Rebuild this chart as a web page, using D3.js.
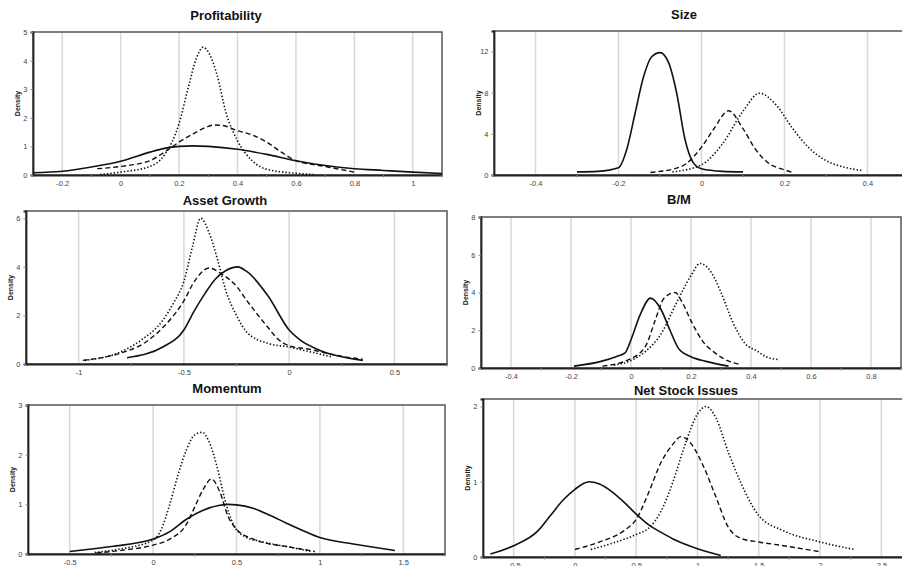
<!DOCTYPE html>
<html>
<head>
<meta charset="utf-8">
<script src="https://cdn.jsdelivr.net/npm/d3@7"></script>
<style>
  body { margin: 0; background: #fff; }
  svg { display: block; font-family: Arial, "Liberation Sans", sans-serif; }
</style>
</head>
<body>
<div id="chart"></div>
<script>
const width = 902;
const height = 566;

// ---- data: [x, density] ----
const profitSolid = [[-0.3,0.08],[-0.2,0.13],[-0.1,0.28],[0,0.48],[0.1,0.8],[0.15,0.93],[0.2,1.0],[0.25,1.02],[0.3,1.0],[0.4,0.9],[0.5,0.72],[0.6,0.5],[0.7,0.33],[0.8,0.22],[0.9,0.16],[1.0,0.1],[1.1,0.05]];
const profitDashed = [[-0.08,0.22],[0,0.3],[0.1,0.5],[0.15,0.8],[0.2,1.15],[0.25,1.45],[0.3,1.7],[0.32,1.75],[0.35,1.73],[0.4,1.55],[0.45,1.4],[0.5,1.15],[0.55,0.8],[0.6,0.5],[0.7,0.3],[0.8,0.1]];
const profitDotted = [[-0.07,0.02],[0,0.1],[0.1,0.3],[0.15,0.7],[0.2,1.8],[0.23,3.0],[0.26,4.1],[0.283,4.47],[0.3,4.3],[0.33,3.5],[0.36,2.2],[0.4,1.2],[0.45,0.5],[0.5,0.2],[0.6,0.06],[0.66,0.02]];

const sizeSolid = [[-0.3,0.3],[-0.25,0.35],[-0.2,0.7],[-0.18,2.5],[-0.16,6],[-0.14,9.5],[-0.12,11.5],[-0.1,11.9],[-0.08,11.0],[-0.06,8],[-0.04,3.5],[-0.02,1.2],[0,0.6],[0.05,0.35],[0.1,0.3]];
const sizeDashed = [[-0.123,0.25],[-0.05,0.8],[0,2.7],[0.03,4.5],[0.065,6.25],[0.1,4.5],[0.13,2.5],[0.16,1.2],[0.2,0.5],[0.22,0.25]];
const sizeDotted = [[-0.07,0.3],[0,1.0],[0.05,3.0],[0.1,6.2],[0.14,7.95],[0.18,6.8],[0.22,4.5],[0.26,2.6],[0.3,1.4],[0.35,0.7],[0.385,0.45]];

const growthSolid = [[-0.77,0.26],[-0.6,0.7],[-0.5,1.4],[-0.45,2.2],[-0.4,2.9],[-0.35,3.5],[-0.3,3.85],[-0.245,4.0],[-0.2,3.8],[-0.1,2.8],[0,1.4],[0.05,1.0],[0.15,0.55],[0.25,0.3],[0.35,0.15]];
const growthDashed = [[-0.98,0.15],[-0.8,0.45],[-0.7,0.8],[-0.6,1.5],[-0.5,2.6],[-0.45,3.4],[-0.38,3.95],[-0.32,3.7],[-0.25,3.2],[-0.2,2.6],[-0.1,1.5],[-0.05,1.0],[0,0.75],[0.1,0.6],[0.2,0.4],[0.3,0.25],[0.35,0.2]];
const growthDotted = [[-0.97,0.15],[-0.8,0.5],[-0.7,1.0],[-0.6,1.8],[-0.55,2.5],[-0.5,3.4],[-0.46,4.8],[-0.42,6.0],[-0.38,5.4],[-0.34,4.3],[-0.3,3.0],[-0.25,2.0],[-0.2,1.3],[-0.1,0.85],[0,0.7],[0.1,0.5],[0.2,0.3]];

const bmSolid = [[-0.19,0.1],[-0.1,0.35],[-0.05,0.6],[-0.02,0.8],[0,1.5],[0.03,2.8],[0.065,3.7],[0.1,3.1],[0.13,2.0],[0.16,1.0],[0.2,0.6],[0.25,0.35],[0.325,0.1]];
const bmDashed = [[-0.095,0.1],[0,0.5],[0.05,1.2],[0.08,2.5],[0.11,3.7],[0.147,4.0],[0.17,3.5],[0.2,2.5],[0.24,1.4],[0.28,0.8],[0.32,0.4],[0.36,0.2]];
const bmDotted = [[-0.057,0.15],[0,0.4],[0.05,0.9],[0.1,1.8],[0.15,3.4],[0.2,4.9],[0.23,5.54],[0.27,5.0],[0.3,4.0],[0.34,2.4],[0.38,1.3],[0.42,0.9],[0.45,0.6],[0.49,0.45]];

const momSolid = [[-0.5,0.05],[-0.25,0.15],[0,0.3],[0.1,0.45],[0.2,0.7],[0.3,0.88],[0.4,0.98],[0.45,1.0],[0.5,0.99],[0.6,0.92],[0.7,0.78],[0.8,0.62],[0.9,0.47],[1.0,0.33],[1.2,0.2],[1.45,0.07]];
const momDashed = [[-0.34,0.02],[-0.2,0.07],[0,0.18],[0.1,0.3],[0.2,0.6],[0.25,0.95],[0.3,1.3],[0.35,1.51],[0.4,1.25],[0.45,0.75],[0.5,0.5],[0.6,0.3],[0.7,0.2],[0.8,0.15],[0.97,0.05]];
const momDotted = [[-0.35,0.03],[-0.2,0.1],[0,0.28],[0.05,0.5],[0.1,1.0],[0.15,1.6],[0.2,2.1],[0.25,2.4],[0.295,2.45],[0.33,2.3],[0.38,1.8],[0.43,1.1],[0.48,0.6],[0.55,0.35],[0.65,0.25],[0.8,0.15],[0.95,0.05]];

const nsiSolid = [[-0.69,0.04],[-0.5,0.15],[-0.3,0.35],[-0.2,0.55],[-0.1,0.75],[0,0.9],[0.115,1.0],[0.2,0.97],[0.3,0.87],[0.4,0.73],[0.5,0.57],[0.6,0.43],[0.7,0.33],[0.8,0.24],[0.9,0.17],[1.0,0.11],[1.1,0.06],[1.19,0.02]];
const nsiDashed = [[0,0.1],[0.2,0.2],[0.4,0.35],[0.5,0.5],[0.6,0.85],[0.7,1.25],[0.8,1.5],[0.865,1.6],[0.95,1.5],[1.05,1.2],[1.15,0.8],[1.25,0.4],[1.35,0.25],[1.5,0.2],[1.7,0.15],[2.0,0.07]];
const nsiDotted = [[0.13,0.1],[0.3,0.18],[0.5,0.3],[0.6,0.38],[0.7,0.6],[0.8,1.0],[0.9,1.5],[1.0,1.9],[1.07,2.0],[1.15,1.85],[1.25,1.4],[1.35,1.0],[1.5,0.55],[1.7,0.35],[2.0,0.2],[2.28,0.1]];

// tick labels
const profitXTicks = [-0.2, 0, 0.2, 0.4, 0.6, 0.8, 1];
const profitYTicks = [0, 1, 2, 3, 4, 5];
const sizeXTicks = [-0.4, -0.2, 0, 0.2, 0.4];
const sizeYTicks = [0, 4, 8, 12];
const growthXTicks = [-1, -0.5, 0, 0.5];
const growthYTicks = [0, 2, 4, 6];
const bmXTicks = [-0.4, -0.2, 0, 0.2, 0.4, 0.6, 0.8];
const bmYTicks = [0, 2, 4, 6, 8];
const momXTicks = [-0.5, 0, 0.5, 1, 1.5];
const momYTicks = [0, 1, 2, 3];
const nsiXTicks = [-0.5, 0, 0.5, 1, 1.5, 2, 2.5];
const nsiYTicks = [0, 1, 2];

const panels = [
  {title: 'Profitability', tx: 226, ty: 20, box: [33, 32, 442, 175], xd: [-0.3, 1.1], yd: [0, 5],
   xt: profitXTicks, yt: profitYTicks, minor: 0.1, lines: [profitSolid, profitDashed, profitDotted]},
  {title: 'Size', tx: 684, ty: 19, box: [494, 31, 909, 175], xd: [-0.5, 0.5], yd: [0, 14],
   xt: sizeXTicks, yt: sizeYTicks, minor: 0.1, lines: [sizeSolid, sizeDashed, sizeDotted]},
  {title: 'Asset Growth', tx: 225, ty: 205, box: [26, 211, 447, 364], xd: [-1.25, 0.75], yd: [0, 6.3],
   xt: growthXTicks, yt: growthYTicks, minor: 0.25, lines: [growthSolid, growthDashed, growthDotted]},
  {title: 'B/M', tx: 679, ty: 204, box: [481, 217, 901, 368], xd: [-0.5, 0.9], yd: [0, 8],
   xt: bmXTicks, yt: bmYTicks, minor: 0.1, lines: [bmSolid, bmDashed, bmDotted]},
  {title: 'Momentum', tx: 227, ty: 393, box: [28, 405, 445, 554], xd: [-0.75, 1.75], yd: [0, 3],
   xt: momXTicks, yt: momYTicks, minor: 0.25, lines: [momSolid, momDashed, momDotted]},
  {title: 'Net Stock Issues', tx: 686, ty: 395, box: [483, 399, 912, 557], xd: [-0.75, 2.75], yd: [0, 2.1],
   xt: nsiXTicks, yt: nsiYTicks, minor: 0.25, lines: [nsiSolid, nsiDashed, nsiDotted]}
];

const lineStyles = [
  {dash: null, w: 1.6},
  {dash: '5,3', w: 1.4},
  {dash: '1.4,2', w: 1.6}
];

const svg = d3.select('#chart').append('svg')
    .attr('width', width)
    .attr('height', height);

svg.append('rect').attr('width', width).attr('height', height).attr('fill', '#fff');

panels.forEach(p => {
  const [x0, y0, x1, y1] = p.box;
  const x = d3.scaleLinear().domain(p.xd).range([x0, x1]);
  const y = d3.scaleLinear().domain(p.yd).range([y1, y0]);
  const g = svg.append('g');

  // vertical grid lines at major ticks
  g.append('g').selectAll('line')
    .data(p.xt)
    .join('line')
    .attr('x1', d => x(d)).attr('x2', d => x(d))
    .attr('y1', y0).attr('y2', y1)
    .attr('stroke', '#d8d8d8')
    .attr('stroke-width', 1.5);

  // frame
  g.append('rect')
    .attr('x', x0).attr('y', y0)
    .attr('width', x1 - x0).attr('height', y1 - y0)
    .attr('fill', 'none')
    .attr('stroke', '#555')
    .attr('stroke-width', 1.5);

  // x axis
  const minorTicks = d3.range(p.xd[0], p.xd[1] + 1e-9, p.minor)
    .map(v => +v.toFixed(4))
    .filter(v => !p.xt.some(t => Math.abs(t - v) < 1e-6) && v > p.xd[0] + 1e-6);
  const xAxis = g.append('g')
    .attr('transform', `translate(0,${y1})`)
    .call(d3.axisBottom(x).tickValues(p.xt).tickSize(0).tickPadding(6).tickFormat(d => String(d)));
  xAxis.select('.domain').attr('stroke', '#222').attr('stroke-width', 1.8);
  xAxis.selectAll('text').attr('font-size', 7.5).attr('fill', '#444');
  xAxis.append('g').selectAll('line')
    .data(minorTicks)
    .join('line')
    .attr('x1', d => x(d)).attr('x2', d => x(d))
    .attr('y1', 0).attr('y2', 2.5)
    .attr('stroke', '#888');

  // y axis
  const yAxis = g.append('g')
    .attr('transform', `translate(${x0},0)`)
    .call(d3.axisLeft(y).tickValues(p.yt).tickSize(2.5).tickPadding(3).tickFormat(d => String(d)));
  yAxis.select('.domain').attr('stroke', '#222').attr('stroke-width', 1.8);
  yAxis.selectAll('.tick line').attr('stroke', '#888');
  yAxis.selectAll('text').attr('font-size', 7.5).attr('fill', '#444');

  g.append('text')
    .attr('transform', `translate(${x0 - 13},${(y0 + y1) / 2}) rotate(-90)`)
    .attr('text-anchor', 'middle')
    .attr('font-size', 7)
    .attr('font-weight', 'bold')
    .attr('fill', '#222')
    .text('Density');

  // title
  g.append('text')
    .attr('x', p.tx).attr('y', p.ty)
    .attr('text-anchor', 'middle')
    .attr('font-size', 13)
    .attr('font-weight', 'bold')
    .attr('fill', '#111')
    .text(p.title);

  // density curves
  const line = d3.line()
    .x(d => x(d[0]))
    .y(d => y(d[1]))
    .curve(d3.curveMonotoneX);

  p.lines.forEach((data, i) => {
    g.append('path')
      .datum(data)
      .attr('d', line)
      .attr('fill', 'none')
      .attr('stroke', '#111')
      .attr('stroke-width', lineStyles[i].w)
      .attr('stroke-dasharray', lineStyles[i].dash);
  });
});
</script>
</body>
</html>
